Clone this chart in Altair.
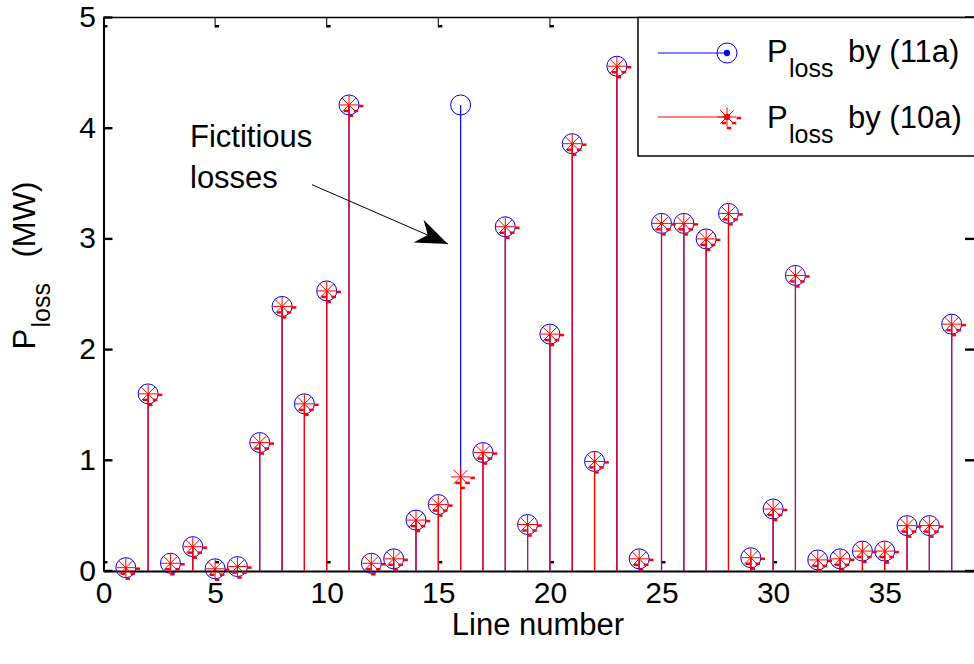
import altair as alt
import pandas as pd

# ---------------- data ----------------
line_number = list(range(1, 39))
p_loss_11a = [0.03, 1.60, 0.07, 0.22, 0.02, 0.04, 1.16, 2.39, 1.51, 2.53,
              4.21, 0.07, 0.11, 0.46, 0.60, 4.21, 1.07, 3.11, 0.42, 2.14,
              3.86, 0.99, 4.56, 0.11, 3.14, 3.14, 3.00, 3.23, 0.12, 0.56,
              2.67, 0.10, 0.11, 0.18, 0.18, 0.41, 0.41, 2.23]
p_loss_10a = [0.03, 1.60, 0.07, 0.22, 0.02, 0.04, 1.16, 2.39, 1.51, 2.53,
              4.21, 0.07, 0.11, 0.46, 0.60, 0.85, 1.07, 3.11, 0.42, 2.14,
              3.86, 0.99, 4.56, 0.11, 3.14, 3.14, 3.00, 3.23, 0.12, 0.56,
              2.67, 0.10, 0.11, 0.18, 0.18, 0.41, 0.41, 2.23]
x_ticks = [0, 5, 10, 15, 20, 25, 30, 35]
y_ticks = [0, 1, 2, 3, 4, 5]
legend_labels = ["by (11a)", "by (10a)"]
annot_text = ["Fictitious", "losses"]
annot_x = [3.875, 3.875]
annot_y = [3.83, 3.46]
arrow_start = [9.34, 3.49]
arrow_tip = [15.43, 2.955]

# ---------------- style ----------------
FONT = "Liberation Sans"
BLUE = "#0000ff"
RED = "#ff0000"
W, H = 870.5, 553.5
FS = 30
FT = 31
SUB = 25
STAR = "M-1,0L1,0M0,-1L0,1M-0.72,-0.72L0.72,0.72M-0.72,0.72L0.72,-0.72"
ARROW = "M0,0L-2,-0.78L-1.375,0L-2,0.78Z"
DASHES = [(12, 1), (7, 6), (2, 11), (-3, 6)]

df11 = pd.DataFrame({"line": line_number, "loss": p_loss_11a})
df10 = pd.DataFrame({"line": line_number, "loss": p_loss_10a})
dfx = pd.DataFrame({"t": x_ticks})
dfy = pd.DataFrame({"t": y_ticks})
df_ann = pd.DataFrame({"text": annot_text, "x": annot_x, "y": annot_y})
df_arrow = pd.DataFrame({"x": [arrow_start[0]], "y": [arrow_start[1]],
                         "x2": [arrow_tip[0]], "y2": [arrow_tip[1]]})
one = pd.DataFrame({"k": [0]})

xs = alt.Scale(domain=[0, 39], nice=False, zero=False)
ys = alt.Scale(domain=[0, 5], nice=False, zero=False)
xax = alt.Axis(values=x_ticks, ticks=False, grid=False, labelFont=FONT,
               labelFontSize=FS, labelColor="black", labelPadding=7,
               labelFlush=False, labelOverlap=False, domainColor="black",
               domainWidth=2, title=None)
yax = alt.Axis(values=y_ticks, ticks=False, grid=False, labelFont=FONT,
               labelFontSize=FS, labelColor="black", labelPadding=8,
               labelFlush=False, labelOverlap=False, domainColor="black",
               domainWidth=2, title=None)


def X(f):
    return alt.X(f, type="quantitative", scale=xs, axis=xax)


def Y(f):
    return alt.Y(f, type="quantitative", scale=ys, axis=yax)


layers = []

# frame ticks (MATLAB style, inward)
layers.append(alt.Chart(dfy).mark_rect(color="black", yOffset=-1.2, y2Offset=1.2).encode(
    x=alt.value(0), x2=alt.value(9), y=Y("t"), y2="t:Q"))
layers.append(alt.Chart(dfy).mark_rect(color="black", yOffset=-1.2, y2Offset=1.2).encode(
    x=alt.value(W - 9), x2=alt.value(W), y=Y("t"), y2="t:Q"))
layers.append(alt.Chart(dfx).mark_rect(color="black", x2Offset=4).encode(
    x=X("t"), x2="t:Q", y=alt.value(H - 10), y2=alt.value(H - 7.5)))
layers.append(alt.Chart(dfx).mark_rule(color="black", strokeWidth=1).encode(
    x=X("t"), y=alt.value(0), y2=alt.value(10)))
layers.append(alt.Chart(dfx).mark_rect(color="black", x2Offset=4).encode(
    x=X("t"), x2="t:Q", y=alt.value(7.5), y2=alt.value(10)))
layers.append(alt.Chart(one).mark_rule(color="black", strokeWidth=1.5).encode(
    x=alt.value(0), x2=alt.value(W), y=alt.value(0)))

# series (11a): blue stems with circles
layers.append(alt.Chart(df11).mark_rule(color=BLUE, strokeWidth=1.2).encode(
    x=X("line"), y=Y("loss"), y2=alt.datum(0)))
layers.append(alt.Chart(df11).mark_point(shape="circle", size=400, filled=False,
                                         color=BLUE, strokeWidth=1, opacity=1).encode(
    x=X("line"), y=Y("loss")))
# series (10a): red stems with stars
layers.append(alt.Chart(df10).mark_rule(color=RED, strokeWidth=1.2).encode(
    x=X("line"), y=Y("loss"), y2=alt.datum(0)))
layers.append(alt.Chart(df10).mark_point(shape=STAR, size=361, filled=False,
                                         color=RED, strokeWidth=1, opacity=1).encode(
    x=X("line"), y=Y("loss")))
for dx, dy in DASHES:
    layers.append(alt.Chart(df10).mark_tick(orient="horizontal", size=4.5, thickness=2.5,
                                            xOffset=dx, yOffset=dy, color=RED, opacity=1).encode(
        x=X("line"), y=Y("loss")))

# annotation
layers.append(alt.Chart(df_ann).mark_text(font=FONT, fontSize=FT, align="left",
                                          baseline="alphabetic", color="black").encode(
    x=X("x"), y=Y("y"), text="text:N"))
layers.append(alt.Chart(df_arrow).mark_rule(color="black", strokeWidth=1).encode(
    x=X("x"), y=Y("y"), x2="x2:Q", y2="y2:Q"))
layers.append(alt.Chart(df_arrow).mark_point(shape=ARROW, size=1024, filled=True, color="black",
                                             angle=23.5, opacity=1, strokeWidth=0).encode(
    x=X("x2"), y=Y("y2")))

# legend
LX0, LX1 = 554.5, 623.5
LY = [35.5, 99.5]
TB = [44.5, 110.5]
layers.append(alt.Chart(one).mark_rect(fill="white", stroke="black", strokeWidth=1.5).encode(
    x=alt.value(534.5), x2=alt.value(W + 30), y=alt.value(0), y2=alt.value(138.5)))
layers.append(alt.Chart(one).mark_rule(color=BLUE, strokeWidth=1).encode(
    x=alt.value(LX0), x2=alt.value(LX1), y=alt.value(LY[0])))
layers.append(alt.Chart(one).mark_point(shape="circle", size=400, filled=False, color=BLUE,
                                        strokeWidth=1, opacity=1).encode(
    x=alt.value(LX1), y=alt.value(LY[0])))
layers.append(alt.Chart(one).mark_point(shape="circle", size=40, filled=True, color=BLUE,
                                        opacity=1).encode(
    x=alt.value(LX1), y=alt.value(LY[0])))
layers.append(alt.Chart(one).mark_rule(color=RED, strokeWidth=1).encode(
    x=alt.value(LX0), x2=alt.value(LX1), y=alt.value(LY[1])))
layers.append(alt.Chart(one).mark_point(shape=STAR, size=361, filled=False, color=RED,
                                        strokeWidth=1, opacity=1).encode(
    x=alt.value(LX1), y=alt.value(LY[1])))
layers.append(alt.Chart(one).mark_point(shape="circle", size=40, filled=True, color=RED,
                                        opacity=1).encode(
    x=alt.value(LX1), y=alt.value(LY[1])))
for dx, dy in DASHES:
    layers.append(alt.Chart(one).mark_rect(color=RED).encode(
        x=alt.value(LX1 + dx - 2.25), x2=alt.value(LX1 + dx + 2.25),
        y=alt.value(LY[1] + dy - 1.25), y2=alt.value(LY[1] + dy + 1.25)))
for i in range(2):
    layers.append(alt.Chart(one).mark_text(text="P", font=FONT, fontSize=FT, align="left",
                                           baseline="alphabetic", color="black").encode(
        x=alt.value(663.5), y=alt.value(TB[i])))
    layers.append(alt.Chart(one).mark_text(text="loss", font=FONT, fontSize=SUB, align="left",
                                           baseline="alphabetic", color="black").encode(
        x=alt.value(685.5), y=alt.value(TB[i] + 15)))
    layers.append(alt.Chart(one).mark_text(text=legend_labels[i], font=FONT, fontSize=FT,
                                           align="left", baseline="alphabetic",
                                           color="black").encode(
        x=alt.value(744.5), y=alt.value(TB[i])))

# axis titles
layers.append(alt.Chart(one).mark_text(text="Line number", font=FONT, fontSize=FT,
                                       align="center", baseline="alphabetic",
                                       color="black").encode(
    x=alt.value(434.5), y=alt.value(617.5)))
YT = 332
layers.append(alt.Chart(one).mark_text(text="P", font=FONT, fontSize=FT, angle=270,
                                       align="left", baseline="alphabetic",
                                       color="black").encode(
    x=alt.value(-68.5), y=alt.value(YT)))
layers.append(alt.Chart(one).mark_text(text="loss", font=FONT, fontSize=SUB, angle=270,
                                       align="left", baseline="alphabetic",
                                       color="black").encode(
    x=alt.value(-53.5), y=alt.value(YT - 22)))
layers.append(alt.Chart(one).mark_text(text="(MW)", font=FONT, fontSize=FT, angle=270,
                                       align="left", baseline="alphabetic",
                                       color="black").encode(
    x=alt.value(-68.5), y=alt.value(YT - 92)))

chart = alt.layer(*layers).properties(
    width=W, height=H,
    autosize=alt.AutoSizeParams(type="none"),
    padding={"left": 103.5, "top": 17.5, "right": 0, "bottom": 93},
    background="white",
).configure_view(stroke="transparent")

chart.save("out.html", embed_options={"renderer": "svg", "actions": False})
